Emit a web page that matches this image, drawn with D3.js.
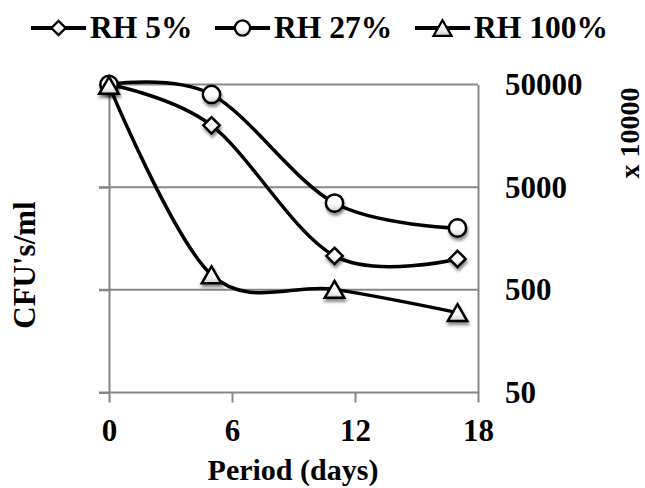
<!DOCTYPE html>
<html>
<head>
<meta charset="utf-8">
<script src="https://cdn.jsdelivr.net/npm/d3@7"></script>
<style>
  body { margin: 0; background: #fff; }
  svg { display: block; }
  text { font-family: "Liberation Serif", "Times New Roman", serif; font-weight: bold; fill: #000; }
</style>
</head>
<body>
<div id="chart"></div>
<script>
var
  width = 645,
  height = 488;

var days = [0, 5, 11, 17];
var rh5 = [50000, 20000, 1070, 1000];
var rh27 = [50000, 40000, 3500, 2000];
var rh100 = [49000, 700, 505, 300];
var seriesNames = ["RH 5%", "RH 27%", "RH 100%"];
var xTicks = [0, 6, 12, 18];
var yTicks = [50, 500, 5000, 50000];

var series = [
  { name: seriesNames[0], values: rh5, marker: "diamond" },
  { name: seriesNames[1], values: rh27, marker: "circle" },
  { name: seriesNames[2], values: rh100, marker: "triangle" }
];

var svg = d3.select("#chart")
  .append("svg")
  .attr("width", width)
  .attr("height", height);

var defs = svg.append("defs");

defs.append("filter")
  .attr("id", "shadow")
  .attr("x", "-50%").attr("y", "-50%")
  .attr("width", "200%").attr("height", "200%")
  .append("feDropShadow")
  .attr("dx", 1).attr("dy", 3)
  .attr("stdDeviation", 1.6)
  .attr("flood-color", "#000")
  .attr("flood-opacity", 0.45);

var grad = defs.append("linearGradient")
  .attr("id", "markerFill")
  .attr("x1", 0).attr("y1", 0).attr("x2", 0).attr("y2", 1);
grad.append("stop").attr("offset", "0%").attr("stop-color", "#fff");
grad.append("stop").attr("offset", "55%").attr("stop-color", "#fff");
grad.append("stop").attr("offset", "100%").attr("stop-color", "#cfcfcf");

var x = d3.scaleLinear()
  .domain([0, 18])
  .range([109, 478]);

var y = d3.scaleLog()
  .domain([50, 50000])
  .range([392.5, 84.5]);

// triangle centred on its bounding box, the way the spreadsheet draws it
var triangleBox = {
  draw: function(ctx, size) {
    var s = Math.sqrt(size * 4 / Math.sqrt(3)),
      h = s * Math.sqrt(3) / 2;
    ctx.moveTo(0, -h / 2);
    ctx.lineTo(s / 2, h / 2);
    ctx.lineTo(-s / 2, h / 2);
    ctx.closePath();
  }
};

var symbols = {
  diamond: d3.symbol().type(d3.symbolDiamond2).size(170),
  circle: d3.symbol().type(d3.symbolCircle).size(235),
  triangle: d3.symbol().type(triangleBox).size(165)
};
var legendSymbols = {
  diamond: d3.symbol().type(d3.symbolDiamond2).size(130),
  circle: d3.symbol().type(d3.symbolCircle).size(180),
  triangle: d3.symbol().type(triangleBox).size(140)
};

var gridColor = "#878787";

// horizontal grid lines
svg.append("g")
  .selectAll("line")
  .data(yTicks.slice(1))
  .enter().append("line")
  .attr("x1", x(0) - 10)
  .attr("x2", x(18))
  .attr("y1", function(d) { return y(d); })
  .attr("y2", function(d) { return y(d); })
  .attr("stroke", gridColor)
  .attr("stroke-width", 2);

var leftAxis = svg.append("g")
  .attr("transform", "translate(" + x(0) + ",0)")
  .call(d3.axisLeft(y).tickValues(yTicks).tickSizeInner(10).tickSizeOuter(0).tickFormat(""));

var bottomAxis = svg.append("g")
  .attr("transform", "translate(0," + y(50) + ")")
  .call(d3.axisBottom(x).tickValues(xTicks).tickSizeInner(10).tickSizeOuter(0).tickPadding(16));

var rightAxis = svg.append("g")
  .attr("transform", "translate(" + x(18) + ",0)")
  .call(d3.axisRight(y).tickValues(yTicks).tickSize(0).tickPadding(27).tickFormat(d3.format("d")));

[leftAxis, bottomAxis, rightAxis].forEach(function(g) {
  g.selectAll("path, line")
    .attr("stroke", gridColor)
    .attr("stroke-width", 2);
  g.selectAll("text")
    .style("font-family", "'Liberation Serif', 'Times New Roman', serif")
    .style("font-weight", "bold")
    .style("font-size", "31px")
    .attr("fill", "#000");
});
bottomAxis.select(".domain").attr("d", "M" + (x(0) - 10) + ",0H" + x(18));

var line = d3.line()
  .x(function(d, i) { return x(days[i]); })
  .y(function(d) { return y(d); })
  .curve(d3.curveCardinal.tension(0));

series.forEach(function(s) {
  var g = svg.append("g");

  g.append("path")
    .attr("d", line(s.values))
    .attr("fill", "none")
    .attr("stroke", "#000")
    .attr("stroke-width", 3.5);

  g.selectAll(".marker")
    .data(s.values)
    .enter().append("path")
    .attr("class", "marker")
    .attr("d", symbols[s.marker])
    .attr("transform", function(d, i) { return "translate(" + x(days[i]) + "," + y(d) + ")"; })
    .attr("fill", "url(#markerFill)")
    .attr("stroke", "#000")
    .attr("stroke-width", 2.5)
    .attr("filter", "url(#shadow)");
});

// legend
var legendX = [31, 215, 415];
var legend = svg.append("g")
  .selectAll("g")
  .data(series)
  .enter().append("g")
  .attr("transform", function(d, i) { return "translate(" + legendX[i] + ",28)"; });

legend.append("line")
  .attr("x1", 0)
  .attr("x2", 55)
  .attr("stroke", "#000")
  .attr("stroke-width", 4);

legend.append("path")
  .attr("d", function(d) { return legendSymbols[d.marker](); })
  .attr("transform", "translate(27.5,0)")
  .attr("fill", "url(#markerFill)")
  .attr("stroke", "#000")
  .attr("stroke-width", 2.3);

legend.append("text")
  .attr("x", 59)
  .attr("y", 10)
  .style("font-size", "31.5px")
  .text(function(d) { return d.name; });

// axis titles
svg.append("text")
  .attr("transform", "translate(35,265) rotate(-90)")
  .attr("text-anchor", "middle")
  .style("font-size", "31px")
  .text("CFU's/ml");

svg.append("text")
  .attr("transform", "translate(639,133) rotate(-90)")
  .attr("text-anchor", "middle")
  .style("font-size", "28px")
  .text("x 10000");

svg.append("text")
  .attr("x", 293)
  .attr("y", 480)
  .attr("text-anchor", "middle")
  .style("font-size", "30px")
  .text("Period (days)");
</script>
</body>
</html>
